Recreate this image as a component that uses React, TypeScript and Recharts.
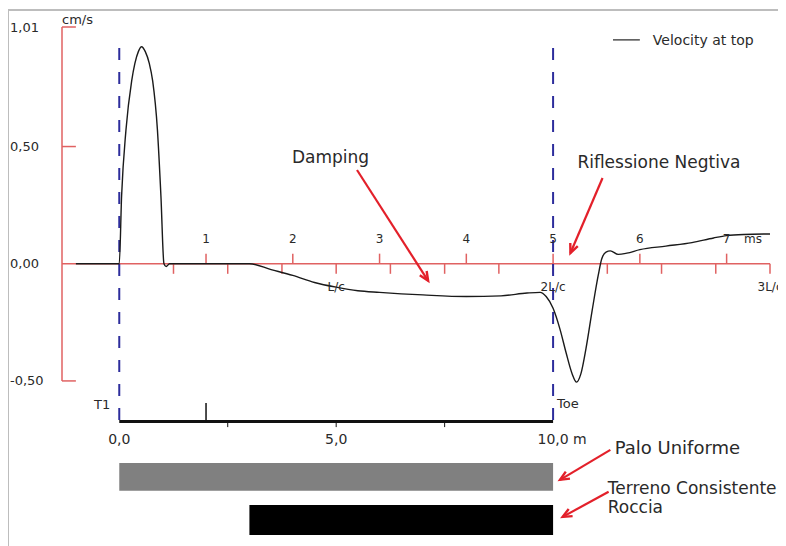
import React from "react";
import {
  ComposedChart,
  Line,
  XAxis,
  YAxis,
  ReferenceLine,
  ReferenceArea,
  ReferenceDot,
} from "recharts";

// velocity at pile top (cm/s) vs time (ms)
const TIME_MS = [
  -0.5, -0.02, 0, 0.027, 0.077, 0.143, 0.18, 0.22, 0.257, 0.3, 0.346, 0.385, 0.44, 0.48, 0.515,
  0.54, 0.58, 1.5, 1.75, 2.0, 2.25, 2.5, 2.75, 3.0, 3.5, 4.0, 4.4, 4.7, 4.85, 4.92, 5.0, 5.08,
  5.15, 5.22, 5.27, 5.32, 5.38, 5.45, 5.52, 5.56, 5.61, 5.66, 5.75, 5.85, 6.0, 6.3, 6.6, 6.85,
  7.0, 7.2, 7.5,
];
const VELOCITY = [
  0, 0, 0, 0.29, 0.57, 0.78, 0.855, 0.905, 0.926, 0.905, 0.855, 0.78, 0.57, 0.29, 0,
  -0.012, 0, 0, -0.025, -0.05, -0.08, -0.1, -0.115, -0.122, -0.133, -0.14, -0.137, -0.125, -0.122,
  -0.14, -0.19, -0.28, -0.38, -0.47, -0.505, -0.47, -0.36, -0.2, -0.05, 0.02, 0.05, 0.055, 0.04,
  0.045, 0.06, 0.075, 0.09, 0.11, 0.12, 0.125, 0.127,
];

const Y_TICKS = [-0.5, 0, 0.5, 1.01];
const MS_TICKS = [1, 2, 3, 4, 5, 6, 7];
const LC_QUARTERS = [0.625, 1.25, 1.875, 2.5, 3.125, 3.75, 4.375, 5, 5.625, 6.25, 6.875, 7.5];
const LC_LABELS = ["L/c", "2L/c", "3L/c"];
const LC_MS = [2.5, 5, 7.5];
const MARKER_MS = [0, 5]; // T1 and Toe

// depth scale (m) under the trace
const MS_PER_M = 0.5;
const DEPTH_LABELS = [0, 5, 10];
const DEPTH_TICKS = [2.5, 5, 7.5];
const DEPTH_MARK = 2;
const PILE = [0, 10];
const ROCK = [3, 10];

const X_DOMAIN = [-0.66, 7.5];
const Y_DOMAIN = [-1.2, 1.01];

const AXIS_RED = "#e06262";
const ARROW_RED = "#e3202a";
const TEXT = "#2a2a2a";
const FONT = "DejaVu Sans";

const AXIS_Y = 0;
const DEPTH_Y = -0.673;

const curve = TIME_MS.map((t, i) => ({ t, v: VELOCITY[i] }));
const fmt = (n: number, d: number) => n.toFixed(d).replace(".", ",");

function textShape(txt: string, size: number, anchor = "start", dx = 0, dy = 0) {
  return (p: any) => (
    <text
      x={p.cx + dx}
      y={p.cy + dy}
      dy="0.35em"
      textAnchor={anchor}
      fontSize={size}
      fontFamily={FONT}
      fill={TEXT}
    >
      {txt}
    </text>
  );
}

function Arrow(p: any) {
  const { x1, y1, x2, y2 } = p;
  const a = Math.atan2(y2 - y1, x2 - x1);
  const h = 10;
  const w = 0.42;
  const ax = x2 - h * Math.cos(a - w);
  const ay = y2 - h * Math.sin(a - w);
  const bx = x2 - h * Math.cos(a + w);
  const by = y2 - h * Math.sin(a + w);
  return (
    <g>
      <line x1={x1} y1={y1} x2={x2} y2={y2} stroke={ARROW_RED} strokeWidth={2.2} />
      <polyline
        points={`${ax},${ay} ${x2},${y2} ${bx},${by}`}
        fill="none"
        stroke={ARROW_RED}
        strokeWidth={2.4}
      />
    </g>
  );
}

const ARROWS = [
  [2.74, 0.4, 3.56, -0.073],
  [5.57, 0.366, 5.2, 0.046],
  [5.66, -0.794, 5.08, -0.922],
  [5.64, -0.973, 5.11, -1.08],
];

const NOTES: [string, number, number, number][] = [
  ["Damping", 1.99, 0.455, 17],
  ["Riflessione Negtiva", 5.28, 0.434, 17],
  ["Palo Uniforme", 5.71, -0.786, 18],
  ["Terreno Consistente", 5.63, -0.956, 17],
  ["Roccia", 5.63, -1.036, 17],
];

function YTick(props: any) {
  const { y, payload } = props;
  return (
    <text x={2} y={y} dy="0.35em" fontSize={13} fontFamily={FONT} fill={TEXT}>
      {fmt(payload.value, 2)}
    </text>
  );
}

export default function App() {
  return (
    <div style={{ position: "relative", width: 778, height: 538, fontFamily: FONT }}>
      <div
        style={{
          position: "absolute",
          left: -1,
          top: 1,
          right: 0,
          bottom: 0,
          borderLeft: "2px solid #bdbdbd",
          borderTop: "2px solid #bdbdbd",
        }}
      />
      <ComposedChart
        width={778}
        height={538}
        data={curve}
        margin={{ top: 19, right: 16, bottom: 1, left: 0 }}
        style={{ position: "relative" }}
      >
        <XAxis dataKey="t" type="number" domain={X_DOMAIN} hide allowDataOverflow />
        <YAxis
          type="number"
          domain={Y_DOMAIN}
          ticks={Y_TICKS}
          interval={0}
          width={54}
          axisLine={false}
          tickLine={false}
          tick={<YTick />}
          allowDataOverflow
        />

        {/* depth bars */}
        <ReferenceArea
          x1={PILE[0] * MS_PER_M}
          x2={PILE[1] * MS_PER_M}
          y1={-0.85}
          y2={-0.969}
          fill="#808080"
          fillOpacity={1}
          stroke="none"
        />
        <ReferenceArea
          x1={ROCK[0] * MS_PER_M}
          x2={ROCK[1] * MS_PER_M}
          y1={-1.029}
          y2={-1.157}
          fill="#000000"
          fillOpacity={1}
          stroke="none"
        />

        {/* velocity axis */}
        <ReferenceLine
          segment={[{ x: X_DOMAIN[0], y: -0.5 }, { x: X_DOMAIN[0], y: 1.01 }]}
          stroke={AXIS_RED}
          strokeWidth={1.5}
        />
        {Y_TICKS.filter((v) => v !== 0).map((v) => (
          <ReferenceLine
            key={`yt${v}`}
            segment={[{ x: X_DOMAIN[0], y: v }, { x: X_DOMAIN[0] + 0.16, y: v }]}
            stroke={AXIS_RED}
            strokeWidth={1.5}
          />
        ))}
        <ReferenceDot x={X_DOMAIN[0]} y={1.01} r={0} shape={textShape("cm/s", 13, "start", 0, -8)} />

        {/* time axis */}
        <ReferenceLine y={AXIS_Y} stroke={AXIS_RED} strokeWidth={1.5} />
        {MS_TICKS.map((t) => (
          <ReferenceLine
            key={`ms${t}`}
            segment={[{ x: t, y: AXIS_Y }, { x: t, y: 0.043 }]}
            stroke={AXIS_RED}
            strokeWidth={1.5}
          />
        ))}
        {MS_TICKS.map((t) => (
          <ReferenceDot key={`msl${t}`} x={t} y={0.106} r={0} shape={textShape(String(t), 12, "middle")} />
        ))}
        <ReferenceDot x={7.5} y={0.106} r={0} shape={textShape("ms", 12, "end", -8)} />
        {LC_QUARTERS.map((t) => (
          <ReferenceLine
            key={`lc${t}`}
            segment={[{ x: t, y: AXIS_Y }, { x: t, y: -0.043 }]}
            stroke={AXIS_RED}
            strokeWidth={1.5}
          />
        ))}
        {LC_LABELS.map((l, i) => (
          <ReferenceDot key={l} x={LC_MS[i]} y={-0.099} r={0} shape={textShape(l, 12, "middle")} />
        ))}

        {/* T1 / Toe markers */}
        {MARKER_MS.map((t) => (
          <ReferenceLine
            key={`mk${t}`}
            segment={[{ x: t, y: 0.92 }, { x: t, y: -0.68 }]}
            stroke="#2d2d9c"
            strokeWidth={2}
            strokeDasharray="12 12"
          />
        ))}
        <ReferenceDot x={MARKER_MS[0]} y={-0.602} r={0} shape={textShape("T1", 13, "end", -9)} />
        <ReferenceDot x={MARKER_MS[1]} y={-0.598} r={0} shape={textShape("Toe", 13, "start", 4)} />

        {/* depth axis */}
        <ReferenceLine
          segment={[{ x: PILE[0] * MS_PER_M, y: DEPTH_Y }, { x: PILE[1] * MS_PER_M, y: DEPTH_Y }]}
          stroke="#111"
          strokeWidth={3}
        />
        <ReferenceLine
          segment={[{ x: DEPTH_MARK * MS_PER_M, y: DEPTH_Y }, { x: DEPTH_MARK * MS_PER_M, y: -0.594 }]}
          stroke="#111"
          strokeWidth={1.5}
        />
        {DEPTH_TICKS.map((d) => (
          <ReferenceLine
            key={`dt${d}`}
            segment={[{ x: d * MS_PER_M, y: DEPTH_Y }, { x: d * MS_PER_M, y: -0.697 }]}
            stroke="#111"
            strokeWidth={1}
          />
        ))}
        {DEPTH_LABELS.map((d) => (
          <ReferenceDot
            key={`dl${d}`}
            x={d * MS_PER_M}
            y={-0.75}
            r={0}
            shape={textShape(fmt(d, 1), 14, "middle")}
          />
        ))}
        <ReferenceDot x={PILE[1] * MS_PER_M} y={-0.75} r={0} shape={textShape("m", 14, "start", 20)} />

        {/* annotations */}
        {ARROWS.map((a, i) => (
          <ReferenceLine
            key={`ar${i}`}
            segment={[{ x: a[0], y: a[1] }, { x: a[2], y: a[3] }]}
            shape={<Arrow />}
          />
        ))}
        {NOTES.map(([txt, x, y, s]) => (
          <ReferenceDot key={txt} x={x} y={y} r={0} shape={textShape(txt, s)} />
        ))}

        {/* legend */}
        <ReferenceLine
          segment={[{ x: 5.69, y: 0.955 }, { x: 6.0, y: 0.955 }]}
          stroke="#222"
          strokeWidth={1.2}
        />
        <ReferenceDot x={6.15} y={0.955} r={0} shape={textShape("Velocity at top", 14)} />

        <Line
          dataKey="v"
          type="monotone"
          stroke="#1a1a1a"
          strokeWidth={1.4}
          dot={false}
          isAnimationActive={false}
        />
      </ComposedChart>
    </div>
  );
}
